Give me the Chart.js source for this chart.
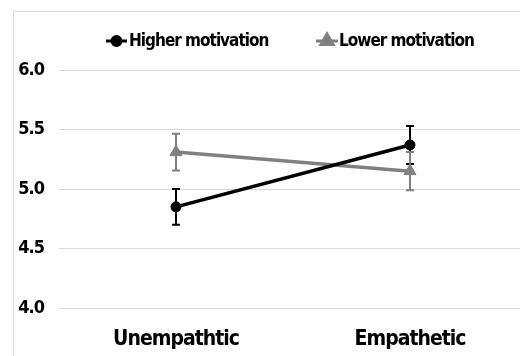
<!DOCTYPE html>
<html>
<head>
<meta charset="utf-8">
<script src="https://cdn.jsdelivr.net/npm/chart.js@4.4.1/dist/chart.umd.min.js"></script>
<style>
  html, body { margin: 0; padding: 0; background: #fff; overflow: hidden; }
  #wrap { position: relative; width: 520px; height: 356px; overflow: hidden; }
  #frame { position: absolute; left: 13px; top: 11px; width: 560px; height: 400px; border: 1px solid #d9d9d9; box-sizing: border-box; }
  #c { position: absolute; left: 0; top: 0; }
</style>
</head>
<body>
<div id="wrap">
  <div id="frame"></div>
  <canvas id="c" width="540" height="356"></canvas>
</div>
<script>
// Condition categories on the x axis
const categories = ['Unempathtic', 'Empathetic'];
// Mean ratings per motivation group
const higherMotivation = [4.85, 5.37];
const lowerMotivation = [5.31, 5.15];
// Error bar half-widths (±)
const higherError = [0.15, 0.16];
const lowerError = [0.155, 0.16];
// Y axis ticks
const yTicks = [4.0, 4.5, 5.0, 5.5, 6.0];

const FONT = '"DejaVu Sans Condensed", "DejaVu Sans", sans-serif';

// Tighter glyph spacing for all canvas text
const spacingPlugin = {
  id: 'spacing',
  beforeUpdate(chart) { chart.ctx.letterSpacing = '-1px'; },
  beforeDraw(chart) { chart.ctx.letterSpacing = '-1px'; }
};

// Vertical error bars with caps, drawn through the scales
const errorBars = {
  id: 'errorBars',
  beforeDatasetsDraw(chart) {
    const ctx = chart.ctx;
    const xs = chart.scales.x, ys = chart.scales.y;
    chart.data.datasets.forEach(ds => {
      const err = ds.errors;
      ctx.save();
      ctx.strokeStyle = ds.borderColor;
      ctx.lineWidth = 2;
      ds.data.forEach((v, i) => {
        const x = xs.getPixelForValue(i);
        const yTop = ys.getPixelForValue(v + err[i]);
        const yBot = ys.getPixelForValue(v - err[i]);
        ctx.beginPath();
        ctx.moveTo(x, yTop); ctx.lineTo(x, yBot);
        ctx.moveTo(x - 4, yTop); ctx.lineTo(x + 4, yTop);
        ctx.moveTo(x - 4, yBot); ctx.lineTo(x + 4, yBot);
        ctx.stroke();
      });
      ctx.restore();
    });
  }
};

// Legend: line swatch with marker, then bold label
const lineLegend = {
  id: 'lineLegend',
  afterDraw(chart) {
    const ctx = chart.ctx;
    const items = [
      { ds: chart.data.datasets[0], x0: 106, x1: 127, tx: 129 },
      { ds: chart.data.datasets[1], x0: 316, x1: 338, tx: 339 }
    ];
    const y = 41;
    ctx.save();
    ctx.letterSpacing = '-1px';
    items.forEach(it => {
      const ds = it.ds;
      ctx.strokeStyle = ds.borderColor;
      ctx.fillStyle = ds.backgroundColor;
      ctx.lineWidth = 3;
      ctx.beginPath(); ctx.moveTo(it.x0, y); ctx.lineTo(it.x1, y); ctx.stroke();
      Chart.helpers.drawPoint(ctx, {
        pointStyle: ds.pointStyle, radius: ds.legendRadius, borderWidth: 1
      }, (it.x0 + it.x1) / 2, y);
      ctx.fillStyle = '#000';
      ctx.font = 'bold 17px ' + FONT;
      ctx.textBaseline = 'middle';
      ctx.textAlign = 'left';
      ctx.fillText(ds.label, it.tx, y + 1);
    });
    ctx.restore();
  }
};

new Chart(document.getElementById('c'), {
  type: 'line',
  data: {
    labels: categories,
    datasets: [
      {
        label: 'Higher motivation',
        data: higherMotivation,
        errors: higherError,
        borderColor: '#000000',
        backgroundColor: '#000000',
        borderWidth: 3.5,
        pointStyle: 'circle',
        pointRadius: 5,
        pointBorderWidth: 1,
        legendRadius: 4.5,
        pointBackgroundColor: '#000000',
        tension: 0
      },
      {
        label: 'Lower motivation',
        data: lowerMotivation,
        errors: lowerError,
        borderColor: '#808080',
        backgroundColor: '#808080',
        borderWidth: 3.5,
        pointStyle: 'triangle',
        pointRadius: 7,
        pointBorderWidth: 1,
        legendRadius: 7,
        pointBackgroundColor: '#808080',
        tension: 0
      }
    ]
  },
  options: {
    responsive: false,
    animation: false,
    layout: { padding: { top: 70, right: 13, bottom: 0, left: 0 } },
    plugins: { legend: { display: false }, tooltip: { enabled: false } },
    scales: {
      x: {
        offset: true,
        afterFit(scale) { scale.height = 48; },
        grid: { display: false },
        border: { display: false },
        ticks: { color: '#000', padding: 11, font: { family: FONT, size: 21, weight: 'bold' } }
      },
      y: {
        min: 4, max: 6,
        afterFit(scale) { scale.width = 59; },
        afterBuildTicks(scale) { scale.ticks = yTicks.map(v => ({ value: v })); },
        grid: { color: '#d9d9d9', lineWidth: 1, drawTicks: false },
        border: { display: false },
        ticks: {
          color: '#000', padding: 15,
          font: { family: FONT, size: 18, weight: 'bold' },
          callback: v => v.toFixed(1)
        }
      }
    }
  },
  plugins: [spacingPlugin, errorBars, lineLegend]
});
</script>
</body>
</html>
